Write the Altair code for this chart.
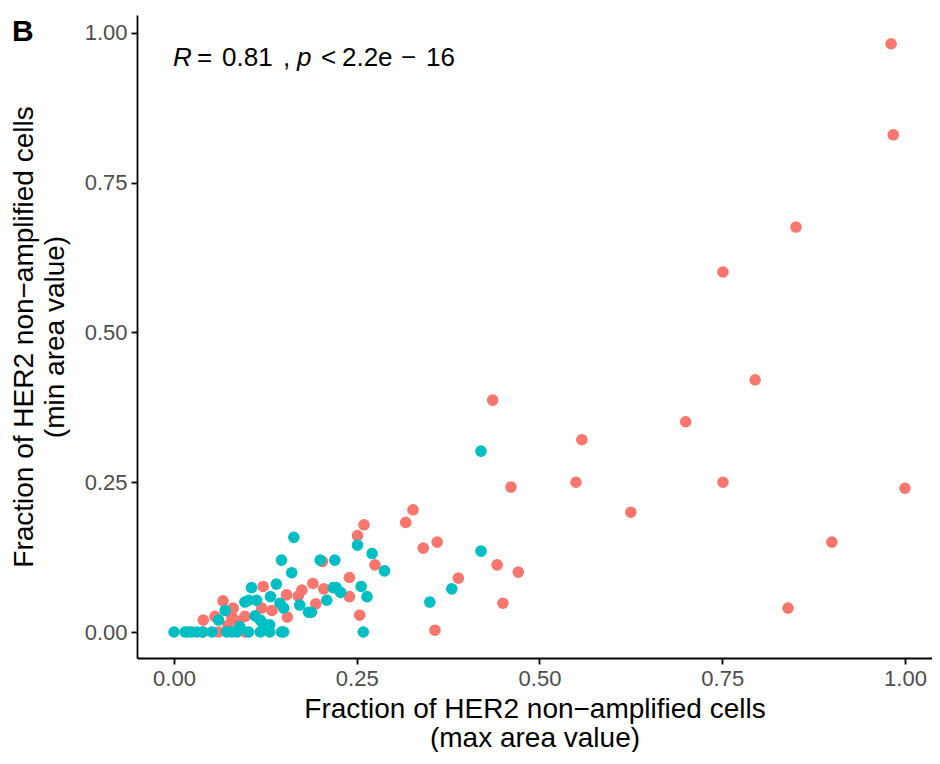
import altair as alt
import pandas as pd

# Red series (first group)
red_x = [0.981, 0.984, 0.851, 0.751, 0.795, 0.700, 0.558, 0.436, 0.550, 0.751,
         0.625, 1.000, 0.900, 0.840, 0.461, 0.442, 0.471, 0.450, 0.389, 0.360,
         0.341, 0.327, 0.317, 0.357, 0.260, 0.251, 0.275, 0.254, 0.240, 0.240,
         0.203, 0.205, 0.190, 0.175, 0.170, 0.194, 0.155, 0.122, 0.067, 0.154,
         0.120, 0.134, 0.081, 0.056, 0.040, 0.079, 0.088, 0.074, 0.097, 0.097,
         0.040, 0.061]
red_y = [0.982, 0.830, 0.676, 0.601, 0.421, 0.351, 0.321, 0.387, 0.250, 0.250,
         0.200, 0.240, 0.150, 0.040, 0.242, 0.112, 0.100, 0.048, 0.090, 0.150,
         0.140, 0.204, 0.183, 0.003, 0.179, 0.161, 0.112, 0.028, 0.091, 0.059,
         0.118, 0.072, 0.081, 0.070, 0.060, 0.047, 0.025, 0.076, 0.052, 0.062,
         0.040, 0.036, 0.040, 0.026, 0.020, 0.026, 0.018, 0.011, 0.026, 0.000,
         0.000, 0.000]

# Teal series (second group)
teal_x = [0.420, 0.420, 0.380, 0.350, 0.259, 0.251, 0.271, 0.288, 0.256, 0.264,
          0.164, 0.161, 0.200, 0.220, 0.218, 0.222, 0.228, 0.209, 0.172, 0.184,
          0.188, 0.147, 0.140, 0.106, 0.132, 0.097, 0.102, 0.113, 0.145, 0.150,
          0.070, 0.061, 0.111, 0.118, 0.122, 0.131, 0.000, 0.015, 0.019, 0.024,
          0.031, 0.039, 0.052, 0.072, 0.079, 0.086, 0.090, 0.102, 0.118, 0.131,
          0.147, 0.150]
teal_y = [0.302, 0.135, 0.072, 0.050, 0.000, 0.145, 0.131, 0.102, 0.076, 0.059,
          0.158, 0.099, 0.120, 0.120, 0.074, 0.074, 0.066, 0.053, 0.045, 0.033,
          0.033, 0.120, 0.080, 0.074, 0.059, 0.050, 0.053, 0.053, 0.048, 0.040,
          0.036, 0.020, 0.027, 0.020, 0.014, 0.012, 0.000, 0.000, 0.000, 0.000,
          0.000, 0.000, 0.000, 0.000, 0.000, 0.000, 0.009, 0.000, 0.000, 0.000,
          0.000, 0.000]

group_names = ["Group 1", "Group 2"]
group_colors = ["#F8766D", "#00BFC4"]

tick_values = [0.0, 0.25, 0.5, 0.75, 1.0]

# Correlation annotation pieces (data-unit x positions)
ann_text = ["R", "=", "0.81", ",", "p", "<", "2.2e", "\u2212", "16"]
ann_x = [-0.0014, 0.0315, 0.0657, 0.1491, 0.1683, 0.2011, 0.2298, 0.3105, 0.3447]
ann_italic = [True, False, False, False, True, False, False, False, False]
ann_y_value = 0.945

panel_label = ["B"]

df = pd.DataFrame({
    "x": red_x + teal_x,
    "y": red_y + teal_y,
    "group": [group_names[0]] * len(red_x) + [group_names[1]] * len(teal_x),
})

ann = pd.DataFrame({
    "text": ann_text,
    "x": ann_x,
    "y": [ann_y_value] * len(ann_text),
    "italic": ann_italic,
})

FONT = "Liberation Sans"

xscale = alt.Scale(domain=[-0.0506, 1.037], nice=False, zero=False)
yscale = alt.Scale(domain=[-0.0434, 1.030], nice=False, zero=False)

xaxis = alt.Axis(
    values=tick_values, format=".2f",
    title=["Fraction of HER2 non\u2212amplified cells", "(max area value)"],
    titlePadding=6, titleLineHeight=29,
)
yaxis = alt.Axis(
    values=tick_values, format=".2f",
    title=["Fraction of HER2 non\u2212amplified cells", "(min area value)"],
    titlePadding=15, titleLineHeight=31,
)

points = alt.Chart(df).mark_circle(size=135, opacity=1).encode(
    x=alt.X("x:Q", scale=xscale, axis=xaxis),
    y=alt.Y("y:Q", scale=yscale, axis=yaxis),
    color=alt.Color("group:N",
                    scale=alt.Scale(domain=group_names, range=group_colors),
                    legend=None),
)

ann_base = alt.Chart(ann)
ann_normal = ann_base.transform_filter("!datum.italic").mark_text(
    align="left", baseline="alphabetic", fontSize=26, font=FONT, color="black"
).encode(x=alt.X("x:Q", scale=xscale), y=alt.Y("y:Q", scale=yscale), text="text:N")
ann_ital = ann_base.transform_filter("datum.italic").mark_text(
    align="left", baseline="alphabetic", fontSize=26, font=FONT, color="black",
    fontStyle="italic"
).encode(x=alt.X("x:Q", scale=xscale), y=alt.Y("y:Q", scale=yscale), text="text:N")

label = alt.Chart(pd.DataFrame({"t": panel_label})).mark_text(
    align="left", baseline="alphabetic", fontSize=30, fontWeight="bold",
    font=FONT, color="black"
).encode(x=alt.value(-125), y=alt.value(26), text="t:N")

chart = alt.layer(points, ann_normal, ann_ital, label).properties(
    width=795,
    height=643,
    autosize=alt.AutoSizeParams(type="none"),
    padding={"left": 129, "top": 7, "right": 0, "bottom": 94},
).configure_view(
    stroke=None
).configure_axis(
    grid=False,
    domainColor="black",
    domainWidth=1.8,
    tickColor="black",
    tickWidth=1.8,
    tickSize=6,
    labelColor="#4D4D4D",
    labelFont=FONT,
    labelFontSize=22,
    labelPadding=4,
    titleFont=FONT,
    titleFontSize=28,
    titleFontWeight="normal",
    titleColor="black",
)

chart.save("out.html", embed_options={"renderer": "svg", "actions": False})
